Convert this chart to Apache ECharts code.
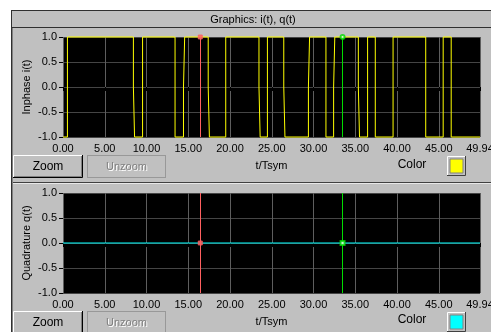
<!DOCTYPE html>
<html><head><meta charset="utf-8">
<script src="https://cdn.jsdelivr.net/npm/echarts@6/dist/echarts.min.js"></script>
<style>html,body{margin:0;padding:0;background:#fff;}#c{width:491px;height:332px;}</style>
</head><body><div id="c"></div>
<script>
// ---------- data ----------
const panelTitle = 'Graphics: i(t), q(t)';
const xAxisName = 't/Tsym';
const iAxisName = 'Inphase i(t)';
const qAxisName = 'Quadrature q(t)';
const xMin = 0, xMax = 49.94, xStep = 5;
const yMin = -1, yMax = 1, yStep = 0.5;
// i(t): times (t/Tsym) where the level changes, and the levels between them
const iEdges = [0.53, 8.5, 9.53, 13.42, 14.5, 17.46, 19.49, 23.54, 24.48, 26.51, 29.46, 31.49, 32.48, 35.44, 36.48, 37.4, 39.53, 43.44, 45.53, 46.49];
const iLevels = [-1, 1, -1, 1, -1, 1, -1, 1, -1, 1, -1, 1, -1, 1, -1, 1, -1, 1, -1, 1, -1];
// edges at which the signal rests briefly on 0
const iZeroStepEdges = [8.5, 14.5, 17.46, 23.54, 26.51, 29.46, 32.48, 35.44];
const zeroStepHalf = 0.07;
// q(t)
const qTimes = [0, 49.94];
const qValues = [0, 0];
// cursors
const cursorT = [16.44, 33.48];
const cursorI = [1, 1];
const cursorQ = [0, 0];
const cursorColors = ['#ff6060', '#00dd00'];
const plotColors = ['#ffff00', '#00ffff'];

// ---------- build series data ----------
const iData = [[xMin, iLevels[0]]];
iEdges.forEach((e, k) => {
  const a = iLevels[k], b = iLevels[k + 1];
  if (iZeroStepEdges.includes(e)) {
    iData.push([e - zeroStepHalf, a], [e - zeroStepHalf, 0], [e + zeroStepHalf, 0], [e + zeroStepHalf, b]);
  } else {
    iData.push([e, a], [e, b]);
  }
});
iData.push([xMax, iLevels[iLevels.length - 1]]);
const qData = qTimes.map((t, k) => [t, qValues[k]]);

const FONT = '"Liberation Sans", Arial, sans-serif';
const chart = echarts.init(document.getElementById('c'), null, {renderer: 'canvas'});

function xAxisOpt(gi, gap) {
  return {
    gridIndex: gi, type: 'value', min: xMin, max: xMax, interval: xStep,
    axisLine: {show: false},
    axisTick: {show: true, length: 4, lineStyle: {color: '#000', width: 1}},
    axisLabel: {color: '#000', fontSize: 11, fontFamily: FONT, margin: 6,
      showMinLabel: true, showMaxLabel: true, hideOverlap: false,
      formatter: v => Number(v).toFixed(2)},
    splitLine: {show: true, lineStyle: {color: '#5e5e5e', width: 1}},
    name: xAxisName, nameLocation: 'middle', nameGap: gap, nameMoveOverlap: false,
    nameTextStyle: {color: '#000', fontSize: 11, fontFamily: FONT}
  };
}
function yAxisOpt(gi, name) {
  return {
    gridIndex: gi, type: 'value', min: yMin, max: yMax, interval: yStep,
    axisLine: {show: false},
    axisTick: {show: true, length: 4, lineStyle: {color: '#000', width: 1}},
    axisLabel: {color: '#000', fontSize: 11, fontFamily: FONT, margin: 6,
      formatter: v => Number(v).toFixed(1)},
    splitLine: {show: true, lineStyle: {color: '#454545', width: 1}},
    name: name, nameLocation: 'middle', nameGap: 31, nameRotate: 90, nameMoveOverlap: false,
    nameTextStyle: {color: '#000', fontSize: 11, fontFamily: FONT}
  };
}
function cursorLines() {
  return {
    silent: true, symbol: ['none', 'none'], label: {show: false},
    data: cursorT.map((t, k) => ({xAxis: t, lineStyle: {color: cursorColors[k], width: 1, type: 'solid'}}))
  };
}

function button(x, y, w, h, text, enabled) {
  const els = [];
  els.push({type: 'rect', shape: {x: x, y: y, width: w, height: h}, style: {fill: '#c0c0c0'}, z: 5});
  if (enabled) {
    els.push({type: 'polyline', shape: {points: [[x + 0.5, y + h], [x + 0.5, y + 0.5], [x + w, y + 0.5]]}, style: {stroke: '#fff', fill: null, lineWidth: 1}, z: 6});
    els.push({type: 'polyline', shape: {points: [[x + w - 0.5, y], [x + w - 0.5, y + h - 0.5], [x, y + h - 0.5]]}, style: {stroke: '#000', fill: null, lineWidth: 1}, z: 6});
    els.push({type: 'polyline', shape: {points: [[x + w - 1.5, y + 1], [x + w - 1.5, y + h - 1.5], [x + 1, y + h - 1.5]]}, style: {stroke: '#808080', fill: null, lineWidth: 1}, z: 6});
    els.push({type: 'text', x: x + w / 2, y: y + h / 2, style: {text: text, fill: '#000', font: '12px ' + FONT, align: 'center', verticalAlign: 'middle'}, z: 7});
  } else {
    els.push({type: 'rect', shape: {x: x + 0.5, y: y + 0.5, width: w - 1, height: h - 1}, style: {stroke: '#707070', fill: null, lineWidth: 1, lineDash: [1, 1]}, z: 6});
    els.push({type: 'text', x: x + w / 2 + 1, y: y + h / 2 + 1, style: {text: text, fill: '#fff', font: '11px ' + FONT, align: 'center', verticalAlign: 'middle'}, z: 7});
    els.push({type: 'text', x: x + w / 2, y: y + h / 2, style: {text: text, fill: '#808080', font: '11px ' + FONT, align: 'center', verticalAlign: 'middle'}, z: 8});
  }
  return els;
}
function swatch(x, y, w, h, color) {
  return [
    {type: 'rect', shape: {x: x, y: y, width: w, height: h}, style: {fill: '#c0c0c0'}, z: 5},
    {type: 'polyline', shape: {points: [[x + 0.5, y + h], [x + 0.5, y + 0.5], [x + w, y + 0.5]]}, style: {stroke: '#fff', fill: null}, z: 6},
    {type: 'polyline', shape: {points: [[x + w - 0.5, y], [x + w - 0.5, y + h - 0.5], [x, y + h - 0.5]]}, style: {stroke: '#404040', fill: null}, z: 6},
    {type: 'rect', shape: {x: x + 3, y: y + 3, width: w - 6, height: h - 6}, style: {fill: color, stroke: '#808080', lineWidth: 1}, z: 7}
  ];
}

const graphics = [
  {type: 'rect', shape: {x: 11, y: 10, width: 480, height: 322}, style: {fill: '#c0c0c0'}, z: -10},
  {type: 'line', shape: {x1: 11, y1: 10.5, x2: 491, y2: 10.5}, style: {stroke: '#303030', lineWidth: 1}, z: -5},
  {type: 'line', shape: {x1: 11.5, y1: 10, x2: 11.5, y2: 332}, style: {stroke: '#303030', lineWidth: 1}, z: -5},
  {type: 'line', shape: {x1: 12, y1: 27.5, x2: 491, y2: 27.5}, style: {stroke: '#303030', lineWidth: 1}, z: -5},
  {type: 'line', shape: {x1: 12.5, y1: 28, x2: 12.5, y2: 332}, style: {stroke: '#808080', lineWidth: 1}, z: -5},
  {type: 'line', shape: {x1: 13, y1: 182.5, x2: 491, y2: 182.5}, style: {stroke: '#404040', lineWidth: 1}, z: -5},
  {type: 'line', shape: {x1: 13, y1: 183.5, x2: 491, y2: 183.5}, style: {stroke: '#e8e8e8', lineWidth: 1}, z: -5},
  {type: 'text', x: 253, y: 19.5, style: {text: panelTitle, fill: '#000', font: '11px ' + FONT, align: 'center', verticalAlign: 'middle'}, z: 5},
  ...button(13, 155, 70, 23, 'Zoom', true),
  ...button(87, 155, 79, 23, 'Unzoom', false),
  {type: 'text', x: 412, y: 165, style: {text: 'Color', fill: '#000', font: '12px ' + FONT, align: 'center', verticalAlign: 'middle'}, z: 5},
  ...swatch(447, 156, 19, 20, plotColors[0]),
  ...button(13, 311, 70, 23, 'Zoom', true),
  ...button(87, 311, 79, 23, 'Unzoom', false),
  {type: 'text', x: 412, y: 320, style: {text: 'Color', fill: '#000', font: '12px ' + FONT, align: 'center', verticalAlign: 'middle'}, z: 5},
  ...swatch(447, 312, 19, 20, plotColors[1])
];

chart.setOption({
  backgroundColor: '#ffffff',
  animation: false,
  graphic: {elements: graphics},
  grid: [
    {left: 63, top: 37, width: 417, height: 100, show: true, backgroundColor: '#000', borderWidth: 0, containLabel: false, outerBoundsMode: 'none'},
    {left: 63, top: 193, width: 417, height: 100, show: true, backgroundColor: '#000', borderWidth: 0, containLabel: false, outerBoundsMode: 'none'}
  ],
  xAxis: [xAxisOpt(0, 23), xAxisOpt(1, 23)],
  yAxis: [yAxisOpt(0, iAxisName), yAxisOpt(1, qAxisName)],
  series: [
    {type: 'line', xAxisIndex: 0, yAxisIndex: 0, data: iData, showSymbol: false, symbol: 'none', clip: false,
     lineStyle: {color: plotColors[0], width: 1}, silent: true, z: 3, markLine: cursorLines()},
    {type: 'scatter', xAxisIndex: 0, yAxisIndex: 0, data: cursorT.map((t, k) => ({value: [t, cursorI[k]], symbol: k ? 'emptyCircle' : 'rect', itemStyle: {color: cursorColors[k], borderColor: cursorColors[k], borderWidth: 1}})),
     symbolSize: 4, silent: true, z: 5},
    {type: 'line', xAxisIndex: 1, yAxisIndex: 1, data: qData, showSymbol: false, symbol: 'none', clip: false,
     lineStyle: {color: plotColors[1], width: 1}, silent: true, z: 3, markLine: cursorLines()},
    {type: 'scatter', xAxisIndex: 1, yAxisIndex: 1, data: cursorT.map((t, k) => ({value: [t, cursorQ[k]], symbol: k ? 'emptyRect' : 'rect', itemStyle: {color: cursorColors[k], borderColor: cursorColors[k], borderWidth: 1}})),
     symbolSize: 4, silent: true, z: 5}
  ]
});
</script></body></html>
